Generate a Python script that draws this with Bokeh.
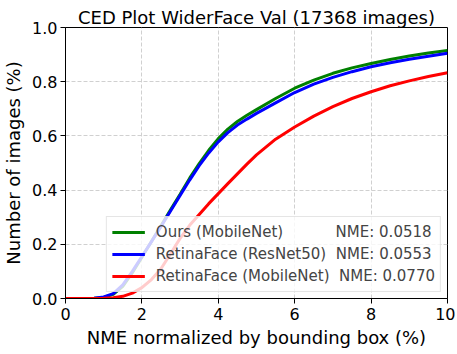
from bokeh.plotting import figure
from bokeh.models import Legend, LegendItem, Range1d, FixedTicker, PrintfTickFormatter
from bokeh.embed import file_html
from bokeh.resources import INLINE

# ---- data ----
nme_x = [0, 0.5, 0.75, 1.0, 1.25, 1.5, 1.75, 2.0, 2.25, 2.5, 2.75, 3.0, 3.25, 3.5, 3.75,
         4.0, 4.25, 4.5, 4.75, 5.0, 5.5, 6.0, 6.5, 7.0, 7.5, 8.0, 8.5, 9.0, 9.5, 10.0]
ours_mobilenet = [0, 0, 0.001, 0.004, 0.015, 0.045, 0.095, 0.152, 0.21, 0.268, 0.327, 0.385,
                  0.444, 0.498, 0.547, 0.59, 0.625, 0.653, 0.676, 0.697, 0.738, 0.776,
                  0.806, 0.831, 0.851, 0.867, 0.882, 0.895, 0.906, 0.915]
retina_resnet50 = [0, 0, 0.001, 0.006, 0.018, 0.05, 0.10, 0.155, 0.21, 0.266, 0.323, 0.38,
                   0.437, 0.49, 0.537, 0.578, 0.612, 0.64, 0.662, 0.683, 0.722, 0.76,
                   0.791, 0.816, 0.837, 0.855, 0.870, 0.883, 0.894, 0.905]
retina_mobilenet = [0, 0, 0, 0.001, 0.003, 0.008, 0.02, 0.04, 0.07, 0.11, 0.165, 0.222,
                    0.27, 0.31, 0.35, 0.387, 0.424, 0.46, 0.496, 0.53, 0.588, 0.633,
                    0.673, 0.708, 0.738, 0.763, 0.785, 0.803, 0.819, 0.833]
series_names = ["Ours (MobileNet)", "RetinaFace (ResNet50)", "RetinaFace (MobileNet)"]
series_nme = ["0.0518", "0.0553", "0.0770"]
name_gaps = [11, 2, 2]
series_colors = ["green", "blue", "red"]
x_ticks = [0, 2, 4, 6, 8, 10]
y_ticks = [0.0, 0.2, 0.4, 0.6, 0.8, 1.0]

FONT = "DejaVu Sans"

p = figure(width=455, height=352, x_range=Range1d(0, 10), y_range=Range1d(0, 1),
           output_backend="svg", toolbar_location=None,
           min_border_left=62, min_border_right=8, min_border_top=27, min_border_bottom=54)

p.title.text = "CED Plot WiderFace Val (17368 images)"
p.title.text_font = FONT
p.title.text_font_size = "18px"
p.title.text_font_style = "normal"
p.title.text_color = "black"
p.title.align = "center"
p.title.standoff = 0
p.title.offset = 0

p.background_fill_color = "white"
p.border_fill_color = "white"
p.outline_line_color = "black"
p.outline_line_width = 1

p.xaxis.ticker = FixedTicker(ticks=x_ticks)
p.yaxis.ticker = FixedTicker(ticks=y_ticks)
p.yaxis.formatter = PrintfTickFormatter(format="%.1f")
for ax in (p.xaxis, p.yaxis):
    ax.axis_line_color = "black"
    ax.major_tick_line_color = "black"
    ax.major_tick_out = 5
    ax.major_tick_in = 0
    ax.minor_tick_line_color = None
    ax.major_label_text_font = FONT
    ax.major_label_text_font_size = "16px"
    ax.major_label_text_color = "black"
    ax.axis_label_text_font = FONT
    ax.axis_label_text_font_size = "18px"
    ax.axis_label_text_font_style = "normal"
    ax.axis_label_text_color = "black"
p.xaxis.axis_label = "NME normalized by bounding box (%)"
p.yaxis.axis_label = "Number of images (%)"
p.xaxis.major_label_standoff = 4
p.yaxis.major_label_standoff = 3
p.xaxis.axis_label_standoff = 4
p.yaxis.axis_label_standoff = 5

p.grid.grid_line_color = "#d0d0d0"
p.grid.grid_line_dash = "4 2"
p.grid.grid_line_width = 1

series = [ours_mobilenet, retina_resnet50, retina_mobilenet]
items = []
for name, nme, gap, color, ys in zip(series_names, series_nme, name_gaps, series_colors, series):
    r = p.line(nme_x, ys, line_color=color, line_width=3)
    label = name + "\u00a0" * gap + "NME: " + nme
    items.append(LegendItem(label=label, renderers=[r]))

legend = Legend(items=items, location="bottom_right")
legend.label_text_font = FONT
legend.label_text_font_size = "15px"
legend.glyph_width = 33
legend.glyph_height = 20
legend.label_height = 20
legend.spacing = 2
legend.padding = 5
legend.label_standoff = 11
legend.margin = 6
legend.border_line_color = "#cccccc"
legend.border_line_width = 1
legend.background_fill_color = "white"
legend.background_fill_alpha = 0.8
p.add_layout(legend)

open("out.html", "w").write(file_html(p, INLINE))
